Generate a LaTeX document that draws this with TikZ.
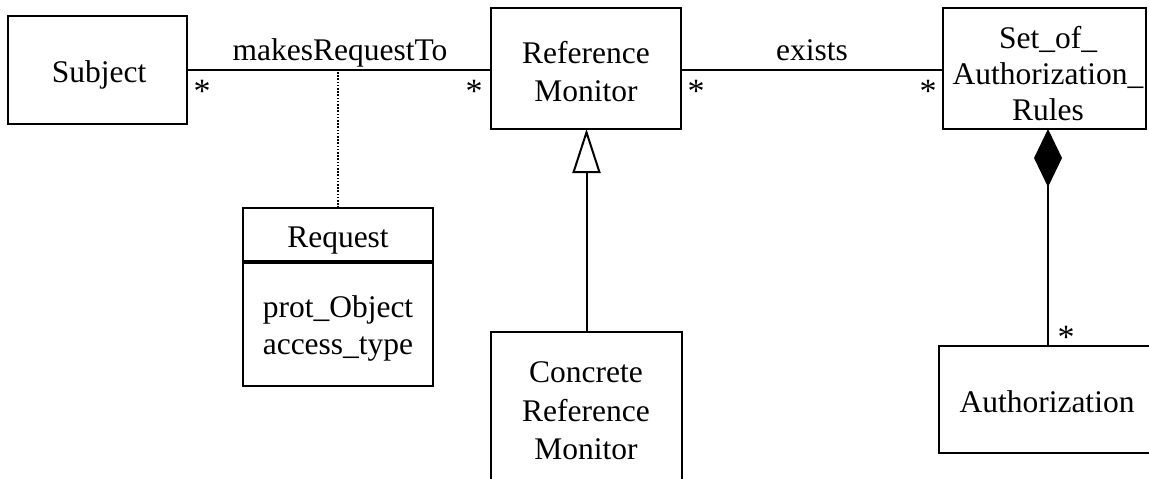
\documentclass[tikz,border=0pt]{standalone}
\usepackage{fontspec}
\setmainfont{Liberation Serif}
\usetikzlibrary{arrows.meta}
\begin{document}
\begin{tikzpicture}[x=1pt,y=-1pt,
  box/.style={draw,line width=2pt,inner sep=0pt,outer sep=0pt},
  txt/.style={font=\fontsize{31.5}{38}\selectfont,inner sep=0pt,outer sep=0pt,anchor=base},
  conn/.style={line width=2pt},
  assocdots/.style={line width=1.6pt,dash pattern=on 1.6pt off 1.6pt},
  genarrow/.style={conn,-{Triangle[open,length=44pt,width=28pt]}},
  comparrow/.style={conn,-{Diamond[length=58pt,width=28pt]}}]
\useasboundingbox (0,0) rectangle (1149,479);
\clip (0,0) rectangle (1149,479);

% class boxes
\node[box,minimum width=179pt,minimum height=108pt] (Subject) at (97.5,70) {};
\node[box,minimum width=190pt,minimum height=121pt] (RM) at (586,68.5) {};
\node[box,minimum width=203pt,minimum height=121pt] (SAR) at (1044.5,68.5) {};
\node[box,minimum width=190pt,minimum height=178pt] (Request) at (338,297) {};
\node[box,minimum width=191pt,minimum height=158pt] (Concrete) at (586.5,411) {};
\node[box,minimum width=218pt,minimum height=107pt] (Auth) at (1048,399.5) {};

% Request compartment separator
\coordinate (sepL) at (243,262);
\coordinate (sepR) at (433,262);
\draw[line width=3.2pt] (sepL -| Request.west) -- (sepR -| Request.east);

% texts
\node[txt] (tSubject) at (99,82) {Subject};
\node[txt] (tRM1) at (586,63) {Reference};
\node[txt] (tRM2) at (586,101) {Monitor};
\node[txt] (tSAR1) at (1048,48) {Set\_of\_};
\node[txt] (tSAR2) at (1048,84) {Authorization\_};
\node[txt] (tSAR3) at (1048,120) {Rules};
\node[txt] (tReq) at (338,247) {Request};
\node[txt] (tReq1) at (338,317) {prot\_Object};
\node[txt] (tReq2) at (338,354) {access\_type};
\node[txt] (tCon1) at (586,382) {Concrete};
\node[txt] (tCon2) at (586,421) {Reference};
\node[txt] (tCon3) at (586,459) {Monitor};
\node[txt] (tAuth) at (1047,412) {Authorization};

% connectors
\draw[conn] (Subject.east) -- (Subject.east -| RM.west);
\draw[conn] (RM.east |- Subject.east) -- (SAR.west |- Subject.east);
\draw[assocdots] (Request.north) -- (Request.north |- Subject.east);
\draw[genarrow] (Concrete.north) -- (Concrete.north |- RM.south);
\draw[comparrow] (Auth.north) -- (Auth.north |- SAR.south);

% association labels
\node[txt] (lMakes) at (340,60) {makesRequestTo};
\node[txt] (lExists) at (812,60) {exists};

% multiplicities
\node[txt,font=\fontsize{34}{38}\selectfont] (m1) at (202,102) {*};
\node[txt,font=\fontsize{34}{38}\selectfont] (m2) at (474,102) {*};
\node[txt,font=\fontsize{34}{38}\selectfont] (m3) at (696,102) {*};
\node[txt,font=\fontsize{34}{38}\selectfont] (m4) at (928,102) {*};
\node[txt,font=\fontsize{34}{38}\selectfont] (m5) at (1066,348) {*};
\end{tikzpicture}
\end{document}
